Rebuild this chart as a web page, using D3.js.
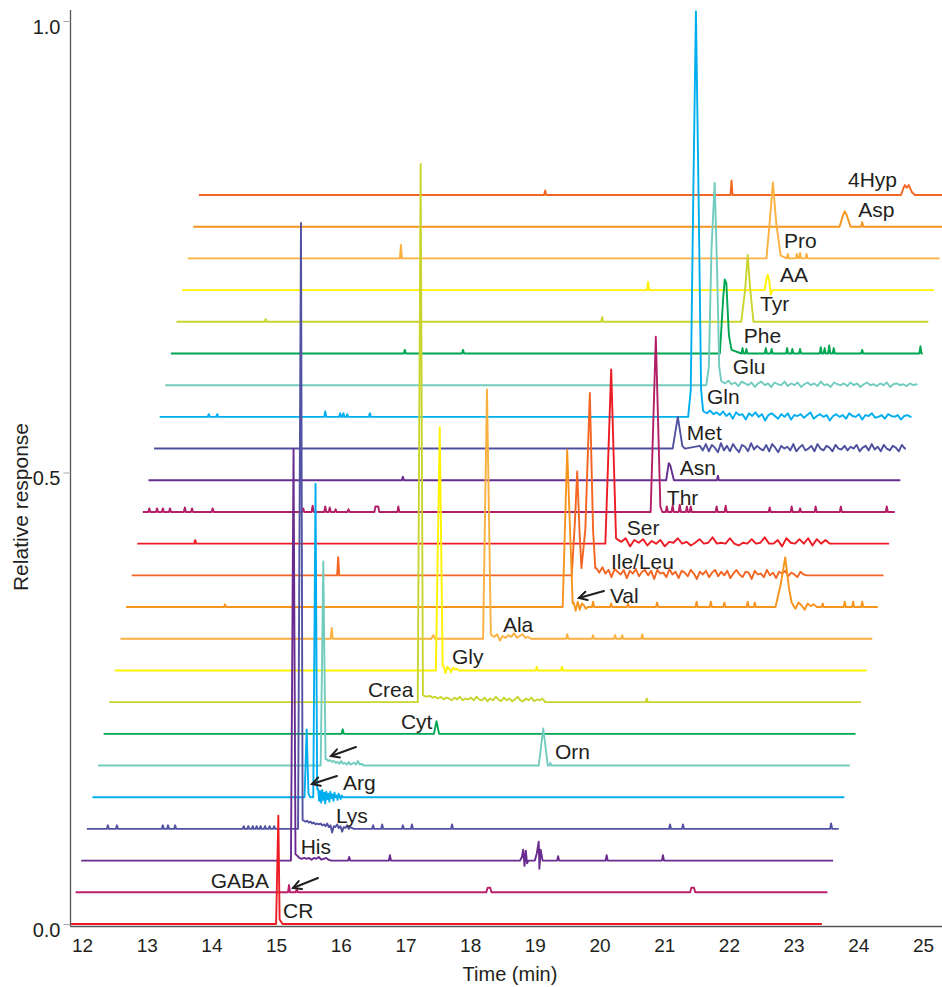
<!DOCTYPE html>
<html lang="en">
<head>
<meta charset="UTF-8">
<title>Amino acid chromatograms</title>
<script src="https://d3js.org/d3.v7.min.js"></script>
<style>
  body { margin: 0; background: #fff; }
  text { font-family: "Liberation Sans", Arial, Helvetica, sans-serif; fill: #231f20; }
</style>
</head>
<body>
<svg width="942" height="987"></svg>
<script>

    // ---- data ----
    var timeTicks = d3.range(12, 26);
    var responseTicks = [0, 0.5, 1];

    var compounds = ["CR", "GABA", "His", "Lys", "Arg", "Orn", "Cyt", "Crea", "Gly", "Ala", "Val", "Ile/Leu",
        "Ser", "Thr", "Asn", "Met", "Gln", "Glu", "Phe", "Tyr", "AA", "Pro", "Asp", "4Hyp"];

    var colors = ["#ed1c24", "#bb1f6c", "#6a2b90", "#5252a3", "#00aeef", "#72cbbf", "#00a651", "#c9d52e",
        "#fff200", "#fbb040", "#f7941d", "#f26522", "#ed1c24", "#b31f66", "#662d91", "#5050a0",
        "#00aeef", "#72cbbf", "#00a651", "#c9d52e", "#fff200", "#fbb040", "#f7941d", "#f26522"];

    // each run starts/ends here, every next run is offset by shiftMin and stepResponse
    var runStart = 11.815, runEnd = 23.437;
    var shiftMin = 0.0866, stepResponse = 0.0351;

    // peak outlines per run: [time (min), response above own baseline]
    var peaks = [
        [[[15.00, 0], [15.035, 0.12], [15.055, 0.005], [15.10, 0]]],
        [[[18.25, 0], [18.27, 0.005], [18.31, 0.005], [18.33, 0]], [[21.40, 0], [21.42, 0.005], [21.46, 0.005], [21.48, 0]]],
        [[[15.23, 0], [15.27, 0.456], [15.30, 0.007]],
            [[18.77, 0], [18.80, 0.004], [18.82, 0.012], [18.84, -0.006], [18.86, 0.011], [18.88, -0.003], [18.90, 0]],
            [[19.00, 0], [19.03, 0.008], [19.06, 0.021], [19.07, -0.009], [19.09, 0.012], [19.12, 0]]],
        [[[15.34, 0], [15.385, 0.671], [15.41, 0.01]]],
        [[[15.44, 0], [15.473, 0.075], [15.50, 0.004], [15.53, 0], [15.575, 0], [15.61, 0.347], [15.635, 0.009]]],
        [[[15.69, 0], [15.73, 0.226], [15.765, 0.007]], [[19.06, 0], [19.13, 0.041], [19.20, 0]]],
        [[[17.44, 0], [17.48, 0.014], [17.52, 0]]],
        [[[17.19, 0], [17.235, 0.596], [17.27, 0.008]]],
        [[[17.47, 0], [17.53, 0.269], [17.575, 0.005]]],
        [[[17.40, 0], [17.43, 0.004], [17.46, 0]], [[18.20, 0], [18.26, 0.276], [18.32, 0.005]]],
        [[[19.43, 0], [19.50, 0.174], [19.585, 0.004]],
            [[22.72, 0], [22.80, 0.025], [22.87, 0.055], [22.93, 0.02], [22.97, 0.005]]],
        [[[19.57, 0], [19.62, 0.06], [19.655, 0.115], [19.69, 0.05], [19.72, 0.008], [19.78, 0.05],
            [19.85, 0.202], [19.90, 0.05], [19.935, 0.008]]],
        [[[20.09, 0], [20.18, 0.193], [20.255, 0.006]]],
        [[[16.52, 0], [16.535, 0.006], [16.58, 0.006], [16.595, 0]], [[20.79, 0], [20.87, 0.194], [20.94, 0.006], [20.97, 0]]],
        [[[21.03, 0], [21.07, 0.019], [21.095, 0.016], [21.15, 0]]],
        [[[21.13, 0], [21.21, 0.035], [21.28, 0.003], [21.32, 0]]],
        [[[21.37, 0], [21.41, 0.03], [21.45, 0.25], [21.49, 0.449], [21.53, 0.25], [21.57, 0.03], [21.60, 0.007]]],
        [[[21.65, 0], [21.69, 0.02], [21.73, 0.15], [21.78, 0.224], [21.82, 0.12], [21.85, 0.02], [21.88, 0.005]]],
        [[[21.86, 0], [21.91, 0.06], [21.935, 0.082], [21.96, 0.078], [22.00, 0.02], [22.04, 0.004]]],
        [[[22.19, 0], [22.25, 0.035], [22.29, 0.074], [22.33, 0.035], [22.38, 0]]],
        [[[22.55, 0], [22.58, 0.012], [22.60, 0.017], [22.625, 0.01], [22.645, -0.005], [22.67, 0]]],
        [[[22.58, 0], [22.63, 0.04], [22.68, 0.084], [22.73, 0.04], [22.80, 0.003]]],
        [[[23.71, 0], [23.76, 0.012], [23.79, 0.017], [23.82, 0.013], [23.88, 0]]],
        [[[24.66, 0], [24.70, 0.008], [24.72, 0.011], [24.75, 0.008], [24.78, 0.011], [24.83, 0.003], [24.875, 0]]]
    ];

    // single sharp spikes per run: [time, height]
    var spikes = [
        [],
        [[15.20, 0.008], [15.32, 0.004]],
        [[16.13, 0.004], [16.76, 0.006], [19.36, 0.005], [20.11, 0.006], [20.98, 0.006]],
        [[12.40, 0.004], [12.54, 0.004], [13.25, 0.004], [13.33, 0.004], [13.44, 0.004], [14.50, 0.003], [14.57, 0.003],
            [14.64, 0.003], [14.70, 0.003], [14.76, 0.003], [14.83, 0.003], [14.90, 0.003], [14.97, 0.003],
            [16.50, 0.004], [16.64, 0.005], [16.96, 0.004], [17.10, 0.005], [17.72, 0.005], [21.09, 0.005],
            [21.29, 0.005], [23.58, 0.006]],
        [],
        [[19.24, 0.003]],
        [[16.03, 0.005]],
        [[20.73, 0.004]],
        [[19.03, 0.004], [19.42, 0.004]],
        [[15.86, 0.012], [19.50, 0.005], [19.90, 0.004], [20.24, 0.004], [20.35, 0.004], [20.66, 0.005]],
        [[14.21, 0.003], [19.90, 0.006], [20.18, 0.004], [20.44, 0.004], [20.89, 0.005], [21.50, 0.006], [21.72, 0.006],
            [21.93, 0.005], [22.29, 0.006], [22.40, 0.005], [23.45, 0.004], [23.79, 0.006], [23.92, 0.006], [24.06, 0.006]],
        [[15.96, 0.02]],
        [[13.75, 0.004]],
        [[13.04, 0.004], [13.16, 0.004], [13.25, 0.004], [13.36, 0.004], [13.59, 0.005], [13.70, 0.004], [14.02, 0.004],
            [15.42, 0.004], [15.565, 0.007], [15.76, 0.006], [15.83, 0.005], [15.92, 0.003], [16.12, 0.003],
            [16.89, 0.006], [21.04, 0.006], [21.13, 0.007], [21.24, 0.008], [21.35, 0.006], [21.41, 0.006],
            [21.81, 0.006], [21.95, 0.007], [22.63, 0.005], [22.97, 0.006], [23.10, 0.004], [23.34, 0.006],
            [23.73, 0.006], [24.44, 0.006]],
        [[16.96, 0.004], [21.83, 0.005]],
        [],
        [[13.96, 0.003], [14.09, 0.003], [15.76, 0.006], [15.99, 0.004], [16.04, 0.004], [16.10, 0.003], [16.45, 0.004]],
        [],
        [[16.99, 0.004], [17.89, 0.004], [22.21, 0.006], [22.27, 0.005], [22.57, 0.006], [22.66, 0.005], [22.90, 0.006],
            [22.98, 0.005], [23.10, 0.005], [23.42, 0.007], [23.48, 0.006], [23.55, 0.009], [23.62, 0.006],
            [24.06, 0.004], [24.96, 0.008]],
        [[14.84, 0.003], [20.04, 0.005]],
        [[20.75, 0.009]],
        [[16.93, 0.015], [22.91, 0.005], [23.05, 0.005], [23.10, 0.006], [23.20, 0.005]],
        [[24.06, 0.005]],
        [[19.16, 0.005], [22.04, 0.016]]
    ];

    // noisy stretches after peaks: from/to (min), values in 1e-3 relative response
    var noise = [
        [], [],
        [{from: 15.32, to: 15.85, milli: [6, 3, 2, 3, 2, 3, 1, 3, 2, 4, 1, 2, 3, 1, 0]}],
        [{from: 15.43, to: 16.20, milli: [9, 8, 9, 7, 8, 6, 7, 5, 6, 5, 6, 4, 5, 3, 6, 2, 4, -4, 3, 2, 5, 1, 3, -3, 2, 1, 4, 0, 2, 1, 0]}],
        [{from: 15.65, to: 16.03, milli: [9, -4, 7, -6, 8, -3, 5, -7, 6, -2, 4, -5, 6, -1, 3, -4, 5, 0, 2, -3, 4, 1, -2, 2, 0]}],
        [{from: 15.78, to: 16.35, milli: [7, 5, 6, 4, 5, 3, 4, 2, 5, 2, 3, 1, 4, 1, 2, 3, 1, 5, 1, 2, 0]}],
        [],
        [{from: 17.29, to: 19.16, milli: [7, 6, 7, 5, 6, 4, 6, 3, 5, 4, 2, 5, 3, 6, 2, 4, 3, 5, 2, 6, 3, 2, 5, 1, 4, 2, 6, 3, 1, 5,
            2, 4, 1, 3, 6, 2, 1, 4, 2, 5, 1, 3, 2, 4, 0]}],
        [{from: 17.59, to: 17.82, milli: [5, -3, 4, 2, -2, 3, 1, 2, 0]}],
        [{from: 18.33, to: 18.94, milli: [4, 2, 5, -2, 3, 1, 4, 2, 6, 1, 3, 5, 1, 2, 0]}],
        [{from: 19.60, to: 19.82, milli: [5, -4, 6, -3, 4, 2, -2, 0]},
            {from: 22.98, to: 23.36, milli: [4, -2, 5, 2, -3, 4, 1, 3, 0]}],
        [{from: 19.95, to: 23.20, milli: [8, 3, 9, 2, 6, -2, 7, 4, 1, 6, -3, 5, 2, 7, -1, 4, 6, 0, 5, -4, 6, 2, 3, -2, 7, 1, 4, -3,
            5, 3, -1, 6, 2, -4, 4, 1, 5, -2, 3, 6, -1, 4, 0, 5, -3, 2, 6, 1, -2, 4, 3, -4, 5, 1, 2, -2, 6, 0, 3, -3, 4, 2, 5,
            -1, 3, 1, -2, 4, 1, 0]}],
        [{from: 20.27, to: 23.56, milli: [5, 2, 6, -3, 4, 1, 5, -2, 3, 0, 4, -3, 2, 1, 6, 0, 2, -2, 1, 5, 0, 1, 7, 0, 1, 0, 6, 0,
            -2, 1, 0, 5, 0, 1, 7, 0, 0, 4, -3, 6, 1, 0, 5, 0, 6, -2, 5, 0, 4, 0]}],
        [], [],
        [{from: 21.55, to: 24.72, milli: [3, -2, 5, -3, 4, 1, -4, 6, -2, 3, -3, 5, 0, -4, 4, 2, -3, 6, -1, 3, 0, -2, 4, -3, 5, 1,
            -4, 3, 0, 2, -2, 5, -3, 1, 4, -2, 0, 3, -3, 5, 0, -2, 3, 1, -3, 4, 0, -1, 3, -2, 2, 0, 4, -3, 1, 3, -2, 5, -1, 2,
            -3, 4, 0, -2, 3, 1, -3, 4, 0]}],
        [{from: 21.61, to: 24.81, milli: [6, 4, 7, 3, 5, 2, 6, 1, 4, -2, 5, 2, 3, -3, 4, 1, 5, 0, 3, -4, 2, 4, 1, -2, 3, 0, 4, -3,
            2, 1, 3, -1, 2, 5, -2, 1, 3, 0, 2, -4, 1, 3, 0, 2, -2, 4, 1, 0, 3, -3, 2, 1, 4, -1, 0, 2, -2, 3, 1, 0, 2, -3, 1, 2,
            0]}],
        [{from: 21.89, to: 24.90, milli: [4, 2, 5, 1, 3, -1, 4, 2, 0, 3, -2, 2, 4, 0, 2, -2, 3, 1, 0, 4, -1, 2, 0, 3, -2, 1, 3, 0,
            2, -1, 4, 0, 1, -2, 3, 1, 0, 2, -1, 3, 0, 2, -2, 1, 3, 0, 1, -1, 2, 0, 3, -2, 1, 2, 0, 1, -1, 2, 0, 1]}],
        [], [], [], [], [], []
    ];

    // ---- layout of annotations (time, response) ----
    var labelAt = [[15.107, 0.007], [13.99, 0.040], [15.38, 0.077], [15.926, 0.112], [16.034, 0.148], [19.311, 0.183],
        [16.93, 0.216], [16.42, 0.251], [17.72, 0.288], [18.507, 0.323], [20.16, 0.356], [20.176, 0.393],
        [20.42, 0.431], [21.04, 0.464], [21.24, 0.497], [21.35, 0.536], [21.66, 0.576], [22.06, 0.609],
        [22.23, 0.643], [22.48, 0.679], [22.79, 0.711], [22.85, 0.749], [24.00, 0.783], [23.84, 0.816]];

    var arrows = [[[15.648, 0.0509], [15.261, 0.0399]], [[15.941, 0.1639], [15.555, 0.155]],
        [[16.235, 0.196], [15.849, 0.186]], [[20.068, 0.3688], [19.681, 0.361]]];

    // ---- chart ----
    var svg = d3.select("svg");
    var x = d3.scaleLinear().domain([12, 25]).range([82, 923]);
    var y = d3.scaleLinear().domain([0, 1]).range([924, 21]);
    var left = 70.5, right = 942, bottom = 926.5;

    svg.append("defs").append("clipPath").attr("id", "plot")
        .append("rect").attr("x", left).attr("y", 0).attr("width", right - left).attr("height", bottom);

    function runPoints(i) {
        var pts = [[runStart + i * shiftMin, 0]];
        peaks[i].forEach(function (p) { p.forEach(function (q) { pts.push(q); }); });
        spikes[i].forEach(function (s) {
            pts.push([s[0] - 0.016, 0], [s[0], s[1]], [s[0] + 0.016, 0]);
        });
        noise[i].forEach(function (n) {
            var k = n.milli.length;
            n.milli.forEach(function (m, j) {
                pts.push([n.from + (n.to - n.from) * j / (k - 1), m / 1000]);
            });
        });
        pts.push([runEnd + i * shiftMin, 0]);
        pts.sort(function (a, b) { return a[0] - b[0]; });
        return pts;
    }

    var g = svg.append("g").attr("clip-path", "url(#plot)");
    var order = d3.range(compounds.length).reverse();

    order.forEach(function (i) {
        var line = d3.line()
            .x(function (d) { return x(d[0]); })
            .y(function (d) { return y(i * stepResponse + d[1]); });
        g.append("path")
            .datum(runPoints(i))
            .attr("d", line)
            .attr("fill", "none")
            .attr("stroke", colors[i])
            .attr("stroke-width", 1.9)
            .attr("stroke-linejoin", "round");
    });

    // axes
    svg.append("line").attr("x1", left).attr("x2", left).attr("y1", 10).attr("y2", bottom)
        .attr("stroke", "#555").attr("stroke-width", 1.3);
    svg.append("line").attr("x1", left).attr("x2", right).attr("y1", bottom).attr("y2", bottom)
        .attr("stroke", "#555").attr("stroke-width", 1.3);

    var yAxis = svg.append("g").attr("transform", "translate(" + left + ",0)")
        .call(d3.axisLeft(y).tickValues(responseTicks).tickFormat(d3.format(".1f")).tickSize(7).tickPadding(3));
    yAxis.select(".domain").remove();
    yAxis.selectAll(".tick line").attr("stroke", "#aaa");
    yAxis.selectAll(".tick text").attr("font-size", 20).attr("dy", "0.62em")
        .style("font-family", "'Liberation Sans', Arial, sans-serif").attr("fill", "#231f20");

    var xAxis = svg.append("g").attr("transform", "translate(0," + bottom + ")")
        .call(d3.axisBottom(x).tickValues(timeTicks).tickSize(0).tickPadding(12));
    xAxis.select(".domain").remove();
    xAxis.selectAll(".tick text").attr("font-size", 19)
        .style("font-family", "'Liberation Sans', Arial, sans-serif").attr("fill", "#231f20");

    svg.append("text").attr("x", 510).attr("y", 981).attr("text-anchor", "middle")
        .attr("font-size", 20).text("Time (min)");
    svg.append("text").attr("transform", "translate(28,507) rotate(-90)").attr("text-anchor", "middle")
        .attr("font-size", 21).text("Relative response");

    // compound labels
    svg.append("g").selectAll("text").data(compounds).enter().append("text")
        .attr("x", function (d, i) { return x(labelAt[i][0]); })
        .attr("y", function (d, i) { return y(labelAt[i][1]); })
        .attr("font-size", 21)
        .text(function (d) { return d; });

    // arrows
    var ag = svg.append("g").attr("stroke", "#231f20").attr("stroke-width", 2).attr("fill", "none")
        .attr("stroke-linecap", "round");
    arrows.forEach(function (a) {
        var x1 = x(a[0][0]), y1 = y(a[0][1]), x2 = x(a[1][0]), y2 = y(a[1][1]);
        var ang = Math.atan2(y2 - y1, x2 - x1), h = 9, w = 0.5;
        ag.append("line").attr("x1", x1).attr("y1", y1).attr("x2", x2).attr("y2", y2);
        ag.append("path").attr("d", "M" + (x2 - h * Math.cos(ang - w)) + "," + (y2 - h * Math.sin(ang - w)) +
            "L" + x2 + "," + y2 +
            "L" + (x2 - h * Math.cos(ang + w)) + "," + (y2 - h * Math.sin(ang + w)));
    });

</script>
</body>
</html>
